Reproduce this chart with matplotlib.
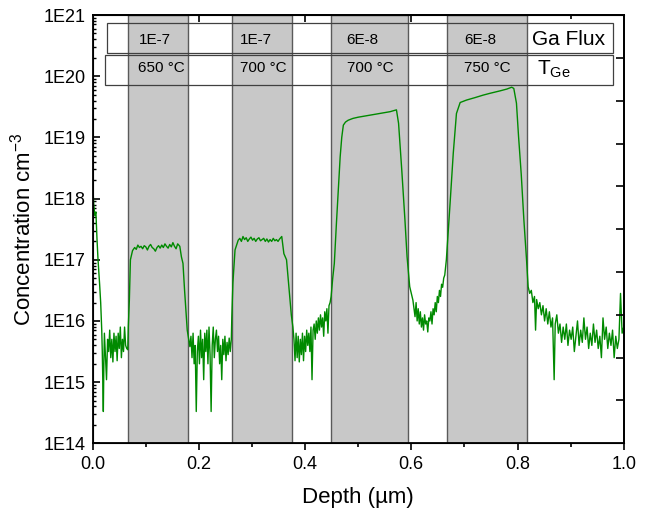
import numpy as np
import matplotlib
matplotlib.use("Agg")
import matplotlib.pyplot as plt
from matplotlib.patches import Rectangle
from matplotlib.ticker import LogLocator, FixedLocator, FuncFormatter, NullFormatter

plt.rcParams['font.family'] = ['Liberation Sans', 'DejaVu Sans']
plt.rcParams['mathtext.fontset'] = 'custom'
plt.rcParams['mathtext.rm'] = 'Liberation Sans'
plt.rcParams['mathtext.it'] = 'Liberation Sans:italic'
plt.rcParams['mathtext.default'] = 'regular'

# SIMS Ga profile (depth in um, log10 of concentration)
depth_um = [
    0.000, 0.002, 0.004, 0.006, 0.008, 0.010, 0.013, 0.015, 0.017, 0.018,
    0.019, 0.020, 0.021, 0.022, 0.024, 0.026, 0.028, 0.030, 0.032, 0.034,
    0.036, 0.038, 0.040, 0.042, 0.044, 0.046, 0.048, 0.050, 0.052, 0.054,
    0.056, 0.058, 0.060, 0.062, 0.064, 0.066,
    0.067, 0.069, 0.071, 0.075, 0.079, 0.082, 0.085, 0.088, 0.091, 0.094,
    0.097, 0.100, 0.103, 0.106, 0.109, 0.112, 0.115, 0.118, 0.121, 0.124,
    0.127, 0.130, 0.133, 0.136, 0.139, 0.142, 0.145, 0.148, 0.151, 0.154,
    0.157, 0.160, 0.164, 0.167, 0.170, 0.173, 0.178, 0.183,
    0.185, 0.187, 0.189, 0.191, 0.193, 0.195, 0.197, 0.199, 0.201, 0.203,
    0.205, 0.207, 0.209, 0.211, 0.213, 0.215, 0.217, 0.219, 0.221, 0.223,
    0.225, 0.227, 0.229, 0.231, 0.233, 0.235, 0.237, 0.239, 0.241, 0.243,
    0.245, 0.247, 0.249, 0.251, 0.253, 0.255, 0.257, 0.259, 0.261,
    0.262, 0.264, 0.268, 0.274, 0.277, 0.280, 0.283, 0.286, 0.289, 0.292,
    0.295, 0.298, 0.301, 0.304, 0.307, 0.310, 0.313, 0.316, 0.319, 0.322,
    0.325, 0.328, 0.331, 0.334, 0.337, 0.340, 0.343, 0.346, 0.349, 0.352,
    0.356, 0.360, 0.365, 0.370, 0.374, 0.377,
    0.379, 0.381, 0.383, 0.385, 0.387, 0.389, 0.391, 0.393, 0.395, 0.397,
    0.399, 0.401, 0.403, 0.405, 0.407, 0.409, 0.411, 0.413, 0.415, 0.417,
    0.419, 0.421, 0.423, 0.425, 0.427, 0.429, 0.431, 0.433, 0.435, 0.437,
    0.439, 0.441, 0.443, 0.445, 0.447, 0.449,
    0.452, 0.455, 0.459, 0.463, 0.466, 0.469, 0.472, 0.476, 0.481, 0.490,
    0.500, 0.520, 0.540, 0.560, 0.572, 0.576, 0.582, 0.588, 0.592, 0.597,
    0.603, 0.607,
    0.609, 0.611, 0.613, 0.615, 0.617, 0.619, 0.621, 0.623, 0.625, 0.627,
    0.629, 0.631, 0.633, 0.635, 0.637, 0.639, 0.641, 0.643, 0.645, 0.647,
    0.649, 0.651, 0.653, 0.655, 0.657, 0.659, 0.661, 0.663, 0.666,
    0.673, 0.679, 0.685, 0.692, 0.704, 0.720, 0.735, 0.748, 0.767, 0.780,
    0.789, 0.793, 0.798, 0.802, 0.807, 0.812, 0.817,
    0.820, 0.823, 0.826, 0.829, 0.832, 0.834, 0.836, 0.839, 0.842, 0.845,
    0.848, 0.851, 0.854, 0.857, 0.860, 0.863, 0.866, 0.869, 0.871, 0.874,
    0.877, 0.880, 0.883, 0.886, 0.889, 0.892, 0.895, 0.898, 0.901, 0.904,
    0.907, 0.910, 0.913, 0.916, 0.919, 0.922, 0.925, 0.928, 0.931, 0.934,
    0.937, 0.940, 0.943, 0.946, 0.949, 0.952, 0.955, 0.958, 0.961, 0.964,
    0.967, 0.970, 0.973, 0.976, 0.979, 0.982, 0.985, 0.988, 0.991, 0.994,
    0.997, 1.000,
]
log_conc = [
    18.22, 17.90, 17.72, 17.78, 17.35, 17.00, 16.60, 16.30, 15.85, 15.50,
    15.00, 14.52, 15.30, 15.80, 15.40, 15.04, 15.70, 15.50, 15.85, 15.40,
    15.70, 15.33, 15.80, 15.50, 15.75, 15.35, 15.80, 15.55, 15.90, 15.40,
    15.70, 15.50, 15.90, 15.60, 15.55, 15.53,
    15.90, 16.34, 17.00, 17.15, 17.20, 17.17, 17.24, 17.20, 17.22, 17.18,
    17.23, 17.21, 17.16, 17.22, 17.25, 17.20, 17.18, 17.14, 17.20, 17.23,
    17.19, 17.24, 17.20, 17.26, 17.22, 17.19, 17.25, 17.21, 17.28, 17.22,
    17.18, 17.26, 17.22, 17.05, 16.94, 16.50, 15.85, 15.58,
    15.75, 15.40, 15.80, 15.30, 15.60, 14.52, 15.50, 15.75, 15.30, 15.85,
    15.40, 15.70, 15.04, 15.80, 15.50, 15.85, 15.30, 15.90, 15.45, 14.52,
    15.60, 15.90, 15.40, 15.70, 15.85, 15.50, 15.75, 15.30, 15.60, 15.04,
    15.70, 15.45, 15.75, 15.35, 15.65, 15.45, 15.72, 15.50, 15.70,
    16.07, 16.62, 17.16, 17.32, 17.35, 17.30, 17.38, 17.33, 17.36, 17.30,
    17.34, 17.37, 17.32, 17.35, 17.30, 17.34, 17.36, 17.31, 17.33, 17.35,
    17.30, 17.34, 17.29, 17.33, 17.30, 17.35, 17.31, 17.33, 17.30, 17.34,
    17.38, 17.10, 17.00, 16.50, 16.10, 15.90,
    15.70, 15.35, 15.80, 15.40, 15.75, 15.33, 15.70, 15.45, 15.80, 15.35,
    15.75, 15.50, 15.85, 15.60, 15.80, 15.50, 15.90, 15.04, 15.85, 15.95,
    15.70, 16.00, 15.80, 16.05, 15.85, 16.10, 15.90, 16.05, 15.75, 16.15,
    16.00, 16.20, 15.80, 16.25, 16.30, 16.40,
    16.70, 16.94, 17.60, 18.20, 18.68, 19.00, 19.20, 19.25, 19.28, 19.31,
    19.33, 19.36, 19.39, 19.42, 19.45, 19.23, 18.47, 17.65, 17.05, 16.56,
    16.34, 16.07,
    16.30, 16.00, 16.20, 15.95, 16.15, 15.90, 16.05, 15.85, 16.10, 15.95,
    16.00, 15.82, 16.05, 16.00, 16.15, 15.95, 16.20, 16.10, 16.30, 16.15,
    16.40, 16.30, 16.50, 16.40, 16.60, 16.55, 16.70, 16.75, 17.00,
    17.92, 18.74, 19.39, 19.57, 19.61, 19.65, 19.69, 19.72, 19.76, 19.79,
    19.82, 19.80, 19.56, 19.01, 18.40, 17.65, 17.00,
    16.56, 16.45, 16.50, 16.30, 16.40, 15.85, 16.35, 16.20, 16.30, 16.10,
    16.25, 16.00, 16.20, 15.95, 16.15, 15.90, 16.05, 15.04, 15.95, 16.10,
    15.80, 15.95, 15.65, 15.90, 15.70, 15.95, 15.60, 15.85, 15.70, 15.90,
    15.50, 15.75, 16.00, 15.60, 15.85, 15.65, 16.05, 15.70, 15.90, 15.55,
    15.80, 15.60, 15.95, 15.65, 15.85, 15.55, 15.75, 15.40, 16.05, 15.70,
    15.90, 15.55, 15.80, 15.60, 15.85, 15.40, 15.75, 15.55, 15.70, 16.45,
    15.80, 15.90,
]

# grown layers (shaded) and growth conditions
layer_start = [0.066, 0.262, 0.449, 0.667]
layer_end = [0.180, 0.376, 0.594, 0.818]
ga_flux = ['1E-7', '1E-7', '6E-8', '6E-8']
t_ge = ['650 °C', '700 °C', '700 °C', '750 °C']

conc = 10 ** np.array(log_conc)

fig = plt.figure(figsize=(6.47, 5.14), dpi=100)
ax = fig.add_axes([0.1433, 0.1375, 0.8207, 0.8333])

for x0, x1 in zip(layer_start, layer_end):
    ax.axvspan(x0, x1, facecolor='#c8c8c8', edgecolor='#5a5a5a', lw=1.0, zorder=1)

ax.plot(depth_um, conc, color='#008a00', lw=1.0, zorder=3)

# condition table
ax.add_patch(Rectangle((0.026, 0.9106), 0.953, 0.070, transform=ax.transAxes,
                       fill=False, edgecolor='#404040', lw=0.9, zorder=2))
ax.add_patch(Rectangle((0.024, 0.8366), 0.955, 0.0694, transform=ax.transAxes,
                       fill=False, edgecolor='#404040', lw=0.9, zorder=2))
label_x = [0.086, 0.277, 0.478, 0.699]
for lx, f, t in zip(label_x, ga_flux, t_ge):
    ax.text(lx, 0.9416, f, transform=ax.transAxes, fontsize=11, va='center', ha='left', zorder=4)
    ax.text(lx, 0.876, t, transform=ax.transAxes, fontsize=11, va='center', ha='left', zorder=4)
ax.text(0.827, 0.9435, 'Ga Flux', transform=ax.transAxes, fontsize=15, va='center', ha='left', zorder=4)
ax.text(0.836, 0.872, 'T$_{Ge}$', transform=ax.transAxes, fontsize=15, va='center', ha='left', zorder=4)

ax.set_xlim(0, 1.0)
ax.set_yscale('log')
ax.set_ylim(1e14, 1e21)
ax.set_xticks([0.0, 0.2, 0.4, 0.6, 0.8, 1.0])
ax.set_xticklabels(['0.0', '0.2', '0.4', '0.6', '0.8', '1.0'])
ax.xaxis.set_minor_locator(FixedLocator([0.1, 0.3, 0.5, 0.7, 0.9]))
ax.yaxis.set_major_locator(LogLocator(base=10, numticks=10))
ax.yaxis.set_major_formatter(FuncFormatter(lambda v, p: '1E%d' % int(round(np.log10(v)))))
ax.yaxis.set_minor_locator(LogLocator(base=10, subs=np.arange(2, 10), numticks=20))
ax.yaxis.set_minor_formatter(NullFormatter())

ax.tick_params(axis='x', which='major', direction='out', length=5, width=1.2, labelsize=13, pad=4)
ax.tick_params(axis='x', which='minor', direction='out', length=3, width=1.2)
ax.tick_params(axis='y', which='major', direction='in', length=5, width=1.2, labelsize=13, pad=5)
ax.tick_params(axis='y', which='minor', direction='in', length=2.5, width=1.0)

for s in ax.spines.values():
    s.set_linewidth(1.3)

top = ax.secondary_xaxis('top')
top.set_xticks([0.2, 0.4, 0.6, 0.8])
top.xaxis.set_minor_locator(FixedLocator([0.1, 0.3, 0.5, 0.7, 0.9]))
top.tick_params(which='major', direction='in', length=5, width=1.2, labeltop=False)
top.tick_params(which='minor', direction='in', length=3, width=1.2)
top.spines['top'].set_linewidth(1.3)

right = ax.twinx()
right.set_ylim(0, 10)
right.set_yticks([1, 2, 3, 4, 5, 6, 7, 8, 9])
right.tick_params(axis='y', direction='in', length=6, width=1.2, labelright=False)
right.spines['right'].set_linewidth(1.3)

ax.set_xlabel('Depth (µm)', fontsize=16, labelpad=10)
ax.set_ylabel('Concentration cm$^{-3}$', fontsize=16, labelpad=6)

fig.savefig('out.png', dpi=100)
